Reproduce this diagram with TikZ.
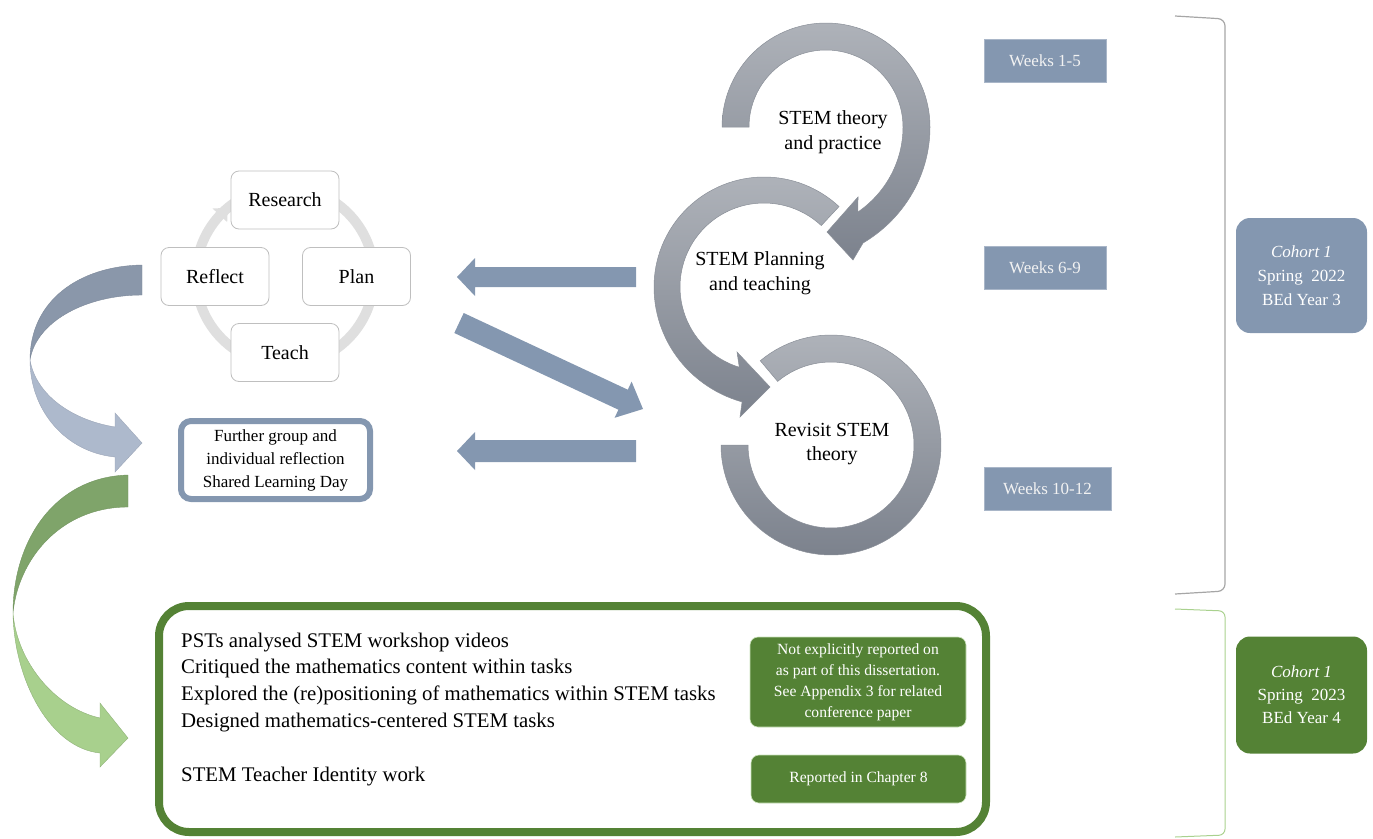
\documentclass[tikz,border=0pt]{standalone}
\usepackage{fontspec}
\setmainfont{Liberation Serif}
\usetikzlibrary{arrows.meta}

\definecolor{bluegray}{HTML}{8497B0}
\definecolor{darkgreen}{HTML}{548235}
\definecolor{lightgreen}{HTML}{A9D18E}
\definecolor{boxgray}{HTML}{BFBFBF}
\definecolor{cycgray}{HTML}{DFDFDF}
\definecolor{curvdark}{HTML}{8A97AA}
\definecolor{curvlight}{HTML}{ADB9CC}
\definecolor{greendark}{HTML}{7FA46A}
\definecolor{greenlight}{HTML}{A8D08D}
\definecolor{ringtop}{HTML}{AEB2B9}
\definecolor{ringbot}{HTML}{7C828D}
\definecolor{ringedge}{HTML}{8A8F98}
\definecolor{bracketgray}{HTML}{A6A6A6}

\begin{document}
\begin{tikzpicture}[x=1pt, y=-1pt,
  cycbox/.style={draw=boxgray, line width=0.8pt, rounded corners=8pt, fill=white,
    minimum width=108pt, minimum height=58pt, font=\fontsize{20}{24}\selectfont},
  ringtext/.style={align=center, font=\fontsize{20}{24.5}\selectfont},
  weekbox/.style={fill=bluegray, draw=bluegray!70!white, line width=0.6pt, text=white!95!black,
    minimum height=43pt, font=\fontsize{17}{20}\selectfont},
  cohortbox/.style={rounded corners=14pt, minimum width=131pt, minimum height=115pt,
    text=white, align=center, font=\fontsize{17}{24}\selectfont},
  notebox/.style={fill=darkgreen, draw=lightgreen!60!white, line width=0.6pt, rounded corners=8pt,
    text=white, align=center, font=\fontsize{15.6}{21}\selectfont},
  worktext/.style={anchor=base west, inner sep=0pt, font=\fontsize{20.8}{27}\selectfont},
  ringshape/.style={top color=ringtop, bottom color=ringbot, draw=ringedge, line width=0.5pt},
  blockfill/.style={fill=bluegray},
]
\useasboundingbox (0,0) rectangle (1373,838);

% ---------- brackets on the right ----------
\draw[bracketgray, line width=1.2pt, rounded corners=7pt]
  (1175,16) -- (1225,19) -- (1225,591) -- (1175,594);
\draw[lightgreen, line width=1pt, rounded corners=6pt]
  (1175,609) -- (1225,611) -- (1225,835) -- (1175,837);

% ---------- circular arrows ----------
% first ring: clockwise from the left, head pointing down-left
\shadedraw[ringshape]
  plot[domain=180:0, samples=60, variable=\t] ({826+104*cos(\t)},{127-104*sin(\t)})
  -- plot[domain=0:-72.3, samples=30, variable=\t]
     ({826+(104+17.8*(\t/72.3)*(\t/72.3))*cos(\t)},{127-(104+17.8*(\t/72.3)*(\t/72.3))*sin(\t)})
  -- (853,260) -- (827,232) -- (858,197)
  -- plot[domain=-69.4:0, samples=30, variable=\t]
     ({826+(77+13.8*(\t/69.4)*(\t/69.4))*cos(\t)},{127-(77+13.8*(\t/69.4)*(\t/69.4))*sin(\t)})
  -- plot[domain=0:180, samples=60, variable=\t] ({826+77*cos(\t)},{127-77*sin(\t)})
  -- cycle;

% second ring: anticlockwise from the upper right, head pointing right
\shadedraw[ringshape]
  plot[domain=47:180, samples=50, variable=\t] ({764+110*cos(\t)},{287-110*sin(\t)})
  -- plot[domain=180:259.2, samples=30, variable=\t]
     ({764+(110+7*((\t-180)/79.2)*((\t-180)/79.2))*cos(\t)},{287-(110+7*((\t-180)/79.2)*((\t-180)/79.2))*sin(\t)})
  -- (740,417) -- (770,387) -- (737,352) -- (739.3,367.3)
  -- plot[domain=252.9:47, samples=60, variable=\t] ({764+84*cos(\t)},{287-84*sin(\t)})
  -- cycle;

% third ring: open ring without a head
\shadedraw[ringshape]
  plot[domain=130:-180, samples=90, variable=\t] ({831+110*cos(\t)},{445-110*sin(\t)})
  -- plot[domain=-180:130, samples=90, variable=\t] ({831+83*cos(\t)},{445-83*sin(\t)})
  -- cycle;

\node[ringtext] (theory) at (833,132) {STEM theory\\and practice};
\node[ringtext] (planning) at (760,273) {STEM Planning\\and teaching};
\node[ringtext] (revisit) at (832,444) {Revisit STEM\\theory};

% ---------- week labels ----------
\node[weekbox, minimum width=122pt] (wk1) at (1045,61) {Weeks 1-5};
\node[weekbox, minimum width=122pt] (wk2) at (1045,268) {Weeks 6-9};
\node[weekbox, minimum width=127pt] (wk3) at (1047.5,489) {Weeks 10-12};

% ---------- cohort labels ----------
\node[cohortbox, fill=bluegray] (coh3) at (1301.5,275.5)
  {\textit{Cohort 1}\\Spring\ \ 2022\\BEd Year 3};
\node[cohortbox, fill=darkgreen, minimum height=117pt, font=\fontsize{17}{23}\selectfont] (coh4) at (1301.5,695)
  {\textit{Cohort 1}\\Spring\ \ 2023\\BEd Year 4};

% ---------- block arrows between the cycle and the rings ----------
\fill[blockfill] (636,267) -- (475,267) -- (475,258) -- (457,277) -- (475,296) -- (475,287) -- (636,287) -- cycle;
\fill[blockfill] (463.7,313.0) -- (627.8,389.7) -- (631.6,381.6) -- (643,409)
  -- (614.6,417.8) -- (618.4,409.7) -- (454.3,333.0) -- cycle;
\fill[blockfill] (636,440) -- (475,440) -- (475,432) -- (457,451) -- (475,470) -- (475,462) -- (636,462) -- cycle;

% ---------- research cycle ----------
\coordinate (cyc) at (285,276);
\draw[cycgray, line width=10pt] (cyc) circle[radius=89];
\fill[cycgray] (212.6,208.5) -- (227.8,207.8) -- (227.2,222.1) -- cycle;

\node[cycbox] (research) at (285,200) {Research};
\node[cycbox] (reflect) at (215,276.5) {Reflect};
\node[cycbox] (plan) at (356.5,276.5) {Plan};
\node[cycbox] (teach) at (285,352.5) {Teach};

% ---------- shared learning day ----------
\node[draw=bluegray, line width=6pt, rounded corners=10pt, fill=white, minimum width=189pt,
  minimum height=78pt, align=center, font=\fontsize{17}{23}\selectfont] (shared) at (275.5,460)
  {Further group and\\individual reflection\\Shared Learning Day};

% ---------- curved arrows on the left ----------
\filldraw[fill=curvdark, draw=curvdark!90!black, line width=0.4pt]
  (142,265) .. controls (80,266) and (30,300) .. (30,360)
  .. controls (36,322) and (85,295) .. (142,295) -- cycle;
\filldraw[fill=curvlight, draw=curvlight!90!black, line width=0.4pt]
  (30,360) .. controls (30,410) and (65,452) .. (115,457)
  -- (115,472) -- (142,443) -- (115,413) -- (115,427)
  .. controls (72,420) and (36,395) .. (30,360) -- cycle;

\filldraw[fill=greendark, draw=greendark!90!black, line width=0.4pt]
  (128,475) .. controls (55,477) and (13,540) .. (13,613)
  .. controls (18,560) and (60,507) .. (128,507) -- cycle;
\filldraw[fill=greenlight, draw=greenlight!85!black, line width=0.4pt]
  (13,613) .. controls (14,680) and (50,748) .. (100,753)
  -- (100,767) -- (128,738) -- (100,703) -- (100,718)
  .. controls (55,708) and (17,662) .. (13,613) -- cycle;

% ---------- final-year work ----------
\node[draw=darkgreen, line width=8pt, rounded corners=30pt, fill=white,
  minimum width=827pt, minimum height=226pt, inner sep=0pt] (work) at (572.5,719) {};

\node[worktext] (w1) at (181,647) {PSTs analysed STEM workshop videos};
\node[worktext] (w2) at (181,673) {Critiqued the mathematics content within tasks};
\node[worktext] (w3) at (181,700) {Explored the (re)positioning of mathematics within STEM tasks};
\node[worktext] (w4) at (181,727) {Designed mathematics-centered STEM tasks};
\node[worktext] (w5) at (181,781) {STEM Teacher Identity work};

\node[notebox, minimum width=216pt, minimum height=90pt] (note1) at (858,682)
  {Not explicitly reported on\\as part of this dissertation.\\See Appendix 3 for related\\conference paper};
\node[notebox, minimum width=215pt, minimum height=48pt] (note2) at (858.5,779)
  {Reported in Chapter 8};

\end{tikzpicture}
\end{document}
